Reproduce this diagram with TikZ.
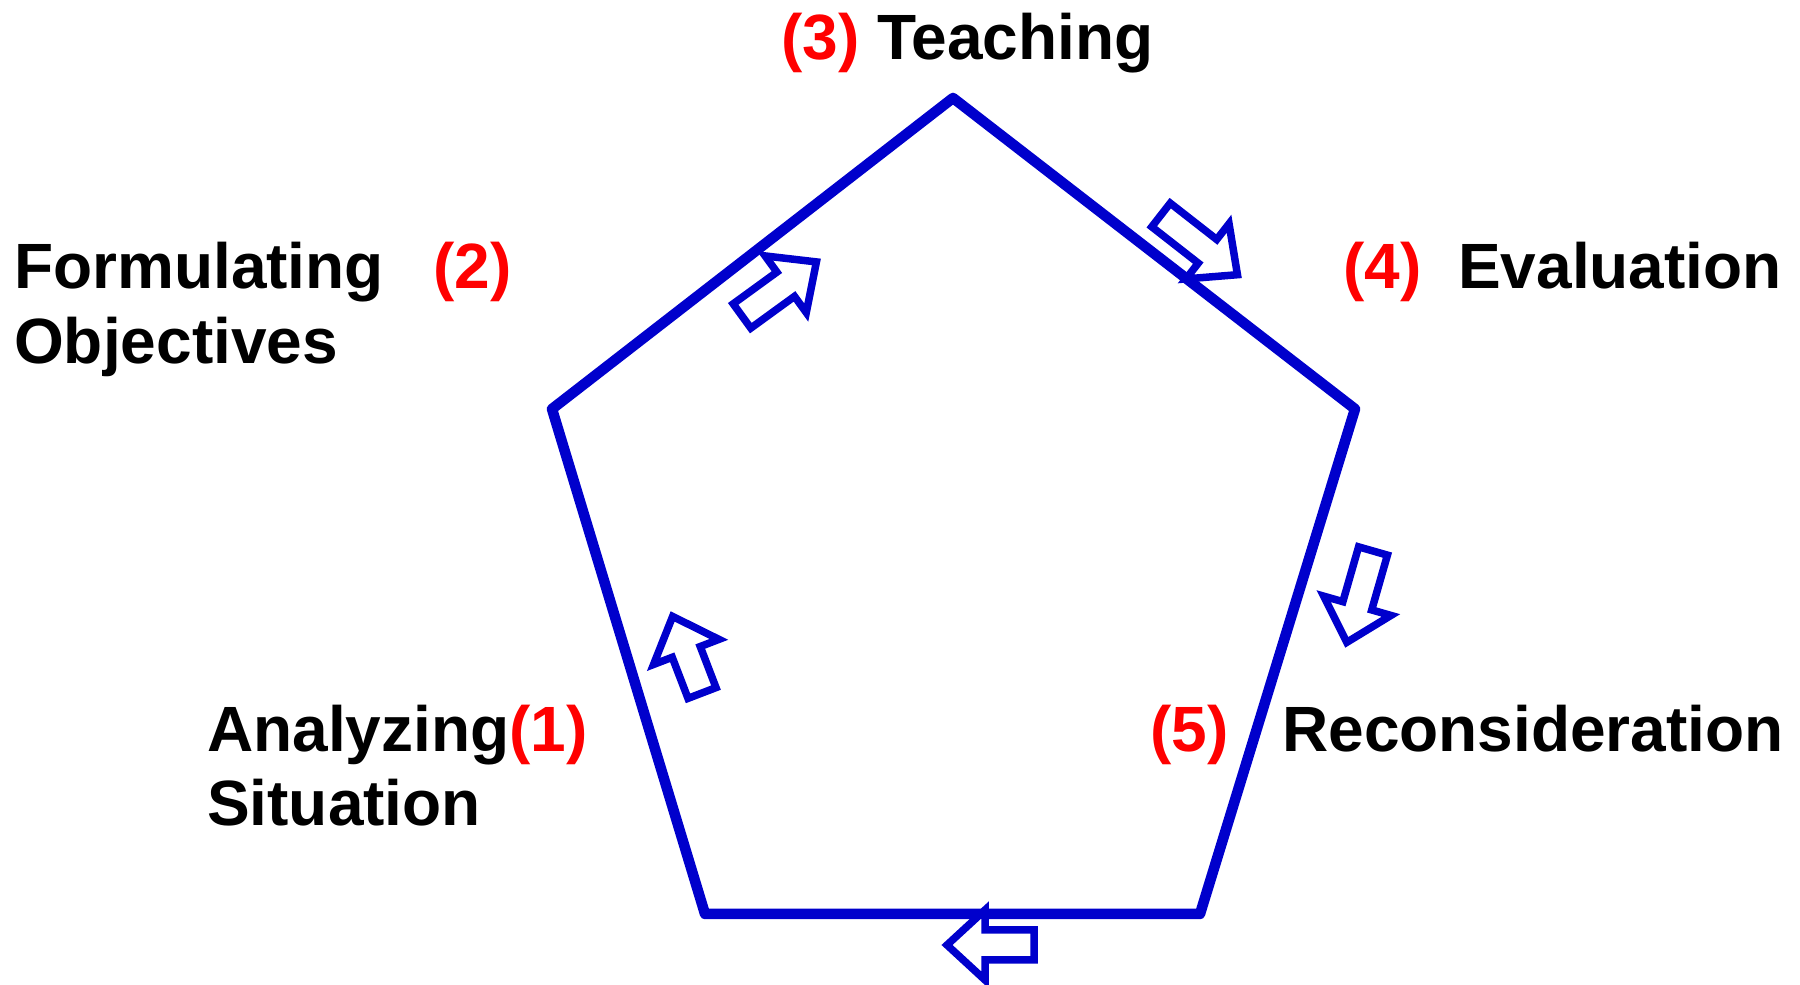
\documentclass[tikz,border=0pt]{standalone}
\usepackage{fontspec}
\setmainfont{Liberation Sans}
\definecolor{penblue}{RGB}{0,0,204}
\definecolor{numred}{RGB}{255,0,0}
\newcommand\blockarr[3]{%
  \draw[arrowline, shift={(#1)}, rotate=#2]
    (0,-15) -- (#3-38,-15) -- (#3-38,-35) -- (#3,0) -- (#3-38,35) -- (#3-38,15) -- (0,15) -- cycle;}
\begin{document}
\begin{tikzpicture}[x=1pt,y=1pt,
  edge/.style={draw=penblue, line width=10.5pt, line join=round},
  arrowline/.style={draw=penblue, line width=7.5pt, fill=white, line join=miter},
  lbl/.style={anchor=base west, inner sep=0pt, font=\fontsize{64}{76}\selectfont\bfseries, text=black},
  num/.style={lbl, text=numred}]
\useasboundingbox (0,0) rectangle (1800,985);
\coordinate (T) at (953,887);
\coordinate (L) at (552,576);
\coordinate (R) at (1355,576);
\coordinate (BL) at (705,71);
\coordinate (BR) at (1200,71);
\draw[edge] (T) -- (R) -- (BR) -- (BL) -- (L) -- cycle;
% arrows
\blockarr{742,669}{36}{92}
\blockarr{1161,770}{-38}{97}
\blockarr{1373,434}{-106}{95}
\blockarr{702,292}{111}{82}
\blockarr{1034,40}{180}{87}
% labels
\node[lbl] (teach) at (781,925) {\textcolor{numred}{(3)} Teaching};
\node[lbl] (form) at (14,696) {Formulating};
\node[num] (n2) at (433,696) {(2)};
\node[lbl] (obj) at (14,621) {Objectives};
\node[num] (n4) at (1343,696) {(4)};
\node[lbl] (eval) at (1458,696) {Evaluation};
\node[lbl] (anal) at (207,233) {Analyzing\textcolor{numred}{(1)}};
\node[lbl] (sit) at (207,159) {Situation};
\node[num] (n5) at (1150,233) {(5)};
\node[lbl] (recon) at (1282,233) {Reconsideration};
\end{tikzpicture}
\end{document}
